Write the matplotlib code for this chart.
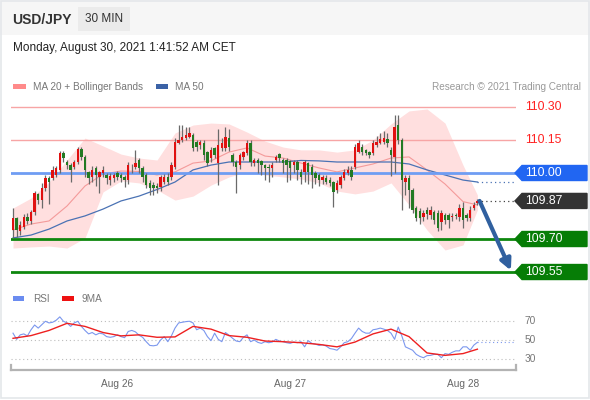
import numpy as np
import matplotlib
matplotlib.use("Agg")
import matplotlib.pyplot as plt
from matplotlib.patches import Rectangle, Polygon
import matplotlib.transforms as mtrans

plt.rcParams['font.family'] = ['Liberation Sans', 'DejaVu Sans']

# ---- candles (30 min, USD/JPY) ----
opens = [109.741, 109.795, 109.738, 109.756, 109.801, 109.78, 109.824, 109.903, 109.877, 109.93,
         109.976, 109.977, 109.991, 110.014, 110.091, 110.05, 110.036, 110.027, 110.05, 110.109,
         110.073, 110.005, 109.982, 110.023, 109.982, 110.0, 109.991, 109.968, 109.977, 110.0,
         109.991, 109.982, 109.968, 110.032, 110.027, 110.059, 110.023, 109.991, 109.955, 109.945,
         109.94, 109.936, 109.959, 109.982, 109.982, 110.027, 110.136, 110.15, 110.159, 110.164,
         110.173, 110.14, 110.127, 110.136, 110.095, 110.068, 110.114, 110.045, 110.114, 110.114,
         110.159, 110.08, 110.05, 110.036, 110.073, 110.091, 110.136, 110.045, 110.059, 110.055,
         110.036, 110.027, 110.023, 110.059, 110.086, 110.059, 110.059, 110.055, 110.036, 110.05,
         110.005, 110.005, 110.045, 110.027, 110.0, 109.991, 109.968, 109.977, 109.968, 109.959,
         109.923, 109.945, 109.977, 110.0, 110.014, 110.027, 110.095, 110.118, 110.105, 110.095,
         110.091, 110.127, 110.136, 110.14, 110.155, 110.105, 110.073, 110.218, 110.15, 109.959,
         109.977, 109.923, 109.841, 109.827, 109.80, 109.832, 109.809, 109.823, 109.818, 109.777,
         109.809, 109.809, 109.80, 109.806, 109.80, 109.841, 109.809, 109.795, 109.841, 109.864]
highs = [109.841, 109.80, 109.78, 109.815, 109.82, 109.83, 109.92, 109.91, 109.955, 109.99,
         109.985, 110.03, 110.03, 110.10, 110.10, 110.06, 110.045, 110.06, 110.12, 110.12,
         110.08, 110.01, 110.03, 110.03, 110.01, 110.03, 110.0, 110.0, 110.0, 110.01,
         110.0, 109.99, 110.05, 110.04, 110.105, 110.07, 110.03, 110.0, 109.97, 109.96,
         109.955, 109.99, 109.995, 110.0, 110.05, 110.16, 110.22, 110.22, 110.21, 110.21,
         110.18, 110.15, 110.15, 110.15, 110.10, 110.12, 110.12, 110.20, 110.16, 110.21,
         110.20, 110.09, 110.06, 110.09, 110.10, 110.15, 110.15, 110.07, 110.07, 110.06,
         110.04, 110.04, 110.05, 110.08, 110.09, 110.07, 110.07, 110.06, 110.06, 110.06,
         110.02, 110.06, 110.05, 110.04, 110.01, 110.0, 109.99, 109.99, 109.98, 109.965,
         109.97, 109.99, 110.02, 110.03, 110.03, 110.13, 110.15, 110.13, 110.11, 110.10,
         110.15, 110.17, 110.18, 110.19, 110.18, 110.12, 110.264, 110.264, 110.16, 109.99,
         109.99, 109.93, 109.85, 109.84, 109.83, 109.845, 109.85, 109.83, 109.83, 109.83,
         109.82, 109.82, 109.82, 109.82, 109.86, 109.87, 109.82, 109.85, 109.87, 109.88]
lows = [109.705, 109.71, 109.72, 109.745, 109.77, 109.77, 109.81, 109.86, 109.84, 109.92,
        109.86, 109.97, 109.98, 110.0, 110.05, 110.02, 109.96, 110.02, 110.04, 110.06,
        109.98, 109.95, 109.96, 109.94, 109.91, 109.98, 109.95, 109.945, 109.96, 109.97,
        109.96, 109.935, 109.95, 110.0, 110.02, 110.0, 109.96, 109.93, 109.90, 109.90,
        109.91, 109.92, 109.95, 109.945, 109.97, 110.02, 110.13, 110.14, 110.15, 110.16,
        110.10, 110.10, 110.11, 110.06, 110.03, 110.05, 110.07, 109.945, 110.10, 110.10,
        110.10, 110.03, 109.91, 110.02, 110.06, 110.08, 110.03, 110.03, 110.0, 109.99,
        109.97, 109.96, 109.98, 110.05, 110.05, 110.0, 109.96, 109.97, 110.0, 109.97,
        109.95, 109.96, 109.95, 109.93, 109.95, 109.94, 109.95, 109.95, 109.94, 109.845,
        109.91, 109.93, 109.97, 109.99, 109.97, 110.02, 110.09, 110.08, 110.08, 110.07,
        110.08, 110.12, 110.13, 110.13, 110.12, 109.985, 110.0, 110.13, 109.83, 109.90,
        109.84, 109.82, 109.78, 109.77, 109.78, 109.79, 109.79, 109.77, 109.735, 109.74,
        109.77, 109.75, 109.78, 109.79, 109.78, 109.75, 109.78, 109.78, 109.83, 109.855]
closes = [109.795, 109.741, 109.764, 109.801, 109.78, 109.824, 109.908, 109.877, 109.93, 109.976,
          109.96, 110.014, 110.023, 110.091, 110.068, 110.036, 110.014, 110.05, 110.109, 110.073,
          110.014, 109.977, 110.014, 109.991, 110.005, 110.014, 109.977, 109.986, 109.991, 109.982,
          109.977, 109.968, 110.036, 110.030, 110.045, 110.023, 109.982, 109.945, 109.932, 109.932,
          109.932, 109.982, 109.982, 109.959, 110.036, 110.14, 110.15, 110.164, 110.173, 110.182,
          110.114, 110.118, 110.14, 110.082, 110.045, 110.105, 110.082, 110.127, 110.136, 110.164,
          110.118, 110.05, 110.027, 110.082, 110.095, 110.136, 110.05, 110.059, 110.045, 110.036,
          110.023, 110.023, 110.036, 110.073, 110.068, 110.045, 110.036, 110.023, 110.05, 110.014,
          109.982, 110.05, 110.005, 109.991, 109.977, 109.968, 109.982, 109.959, 109.955, 109.914,
          109.955, 109.982, 110.005, 110.014, 109.982, 110.118, 110.136, 110.095, 110.091, 110.082,
          110.136, 110.14, 110.155, 110.159, 110.136, 110.082, 110.209, 110.15, 109.968, 109.977,
          109.923, 109.832, 109.795, 109.795, 109.818, 109.814, 109.832, 109.786, 109.75, 109.818,
          109.786, 109.786, 109.805, 109.804, 109.841, 109.786, 109.795, 109.832, 109.855, 109.873]

# ---- indicators, sampled every 5 bars ----
ind_idx = [0, 5, 10, 15, 20, 25, 30, 35, 40, 45, 50, 55, 60, 65, 70, 75, 80, 85, 90,
           95, 100, 105, 110, 115, 120, 125, 129]
ma50 = [109.705, 109.718, 109.745, 109.782, 109.805, 109.836, 109.873, 109.895, 109.925, 109.959,
        110.014, 110.036, 110.05, 110.05, 110.05, 110.05, 110.057, 110.055, 110.05, 110.05,
        110.05, 110.05, 110.041, 110.014, 109.991, 109.968, 109.959]
ma20 = [109.741, 109.768, 109.782, 109.85, 109.941, 109.995, 110.009, 110.007, 109.991, 110.005,
        110.045, 110.055, 110.095, 110.114, 110.077, 110.068, 110.045, 110.023, 110.005, 110.023,
        110.041, 110.068, 110.073, 110.014, 109.95, 109.87, 109.855]
bb_up = [109.841, 109.886, 109.959, 110.059, 110.159, 110.123, 110.086, 110.068, 110.059, 110.182,
         110.218, 110.227, 110.223, 110.186, 110.145, 110.118, 110.105, 110.105, 110.095, 110.105,
         110.15, 110.223, 110.282, 110.291, 110.227, 110.036, 109.90]
bb_low = [109.659, 109.664, 109.668, 109.659, 109.705, 109.914, 109.964, 109.955, 109.923, 109.877,
          109.895, 109.945, 109.982, 110.005, 109.991, 109.982, 109.973, 109.955, 109.918, 109.905,
          109.918, 109.955, 109.855, 109.741, 109.65, 109.673, 109.832]

rsi = [57.3, 50.7, 55.5, 56.5, 54.4, 60.9, 66.0, 62.7, 66.4, 70.0,
       68.2, 68.9, 71.1, 74.7, 70.0, 68.2, 64.5, 68.2, 70.0, 64.5,
       60.2, 56.5, 58.0, 55.5, 57.3, 56.5, 53.6, 52.9, 53.6, 55.5,
       53.6, 52.5, 59.1, 60.2, 58.7, 55.1, 52.9, 48.2, 44.2, 43.8,
       44.5, 50.0, 53.6, 48.2, 54.4, 62.7, 68.2, 68.9, 69.6, 70.0,
       68.2, 60.9, 62.7, 60.2, 53.6, 49.3, 57.3, 50.7, 48.2, 58.0,
       55.1, 51.8, 48.9, 48.2, 52.9, 55.5, 48.2, 50.0, 47.5, 46.4,
       48.2, 47.1, 47.8, 50.7, 48.9, 48.2, 47.1, 46.4, 47.8, 47.1,
       48.2, 42.7, 49.3, 46.4, 45.6, 44.2, 44.9, 43.5, 40.9, 40.2,
       39.1, 42.7, 47.1, 48.2, 51.5, 57.3, 62.7, 59.1, 57.3, 57.3,
       60.9, 61.6, 62.7, 61.6, 60.2, 57.3, 50.7, 63.8, 54.4, 42.7,
       40.9, 39.1, 34.7, 32.5, 31.1, 33.3, 33.6, 34.7, 34.7, 31.1,
       35.5, 34.7, 36.9, 38.4, 38.4, 42.7, 42.7, 39.1, 44.5, 47.5]
rsi_ma9 = [51.8, 54.7, 60.2, 67.8, 64.5, 58.0, 54.4, 55.5, 52.9, 53.3,
           64.5, 61.6, 54.7, 52.9, 48.9, 48.2, 47.1, 45.3, 42.7, 47.8,
           56.5, 61.6, 53.6, 36.2, 33.6, 35.5, 40.2]

levels = [110.30, 110.15, 110.00, 109.70, 109.55]
day_pos = [29, 77, 125]
day_labels = ['Aug 26', 'Aug 27', 'Aug 28']

idx = np.arange(len(closes))
o = np.array(opens); c = np.array(closes)

fig = plt.figure(figsize=(5.9, 4), dpi=100)

# background / header in pixel coords
bg = fig.add_axes([0, 0, 1, 1])
bg.set_xlim(0, 590); bg.set_ylim(400, 0); bg.axis('off')
bg.add_patch(Rectangle((0, 0), 590, 35, color='#f6f6f6', lw=0))
bg.add_patch(Rectangle((1, 1), 587.5, 396.5, fill=False, ec='#e4e7ea', lw=1.2))
bg.add_patch(Rectangle((78, 7), 52, 24, color='#ebebeb', lw=0))
bg.text(12, 20, 'USD/JPY', fontsize=10, fontweight='bold', color='#333333', va='center')
bg.text(104, 19.5, '30 MIN', fontsize=8.5, color='#333333', va='center', ha='center')
bg.text(13, 48, 'Monday, August 30, 2021 1:41:52 AM CET', fontsize=8.5, color='#222222', va='center')
bg.add_patch(Rectangle((13, 84), 13, 5, color='#ff8a8a', lw=0))
bg.text(33, 86.5, 'MA 20 + Bollinger Bands', fontsize=7.2, color='#777777', va='center')
bg.add_patch(Rectangle((156, 84), 12, 5, color='#3b62a6', lw=0))
bg.text(175, 86.5, 'MA 50', fontsize=7.2, color='#777777', va='center')
bg.text(581, 86.5, 'Research \u00a9 2021 Trading Central', fontsize=7.2, color='#999999',
        va='center', ha='right')
bg.add_patch(Rectangle((13, 296), 11, 5, color='#6b8cf0', lw=0))
bg.text(33, 298.5, 'RSI', fontsize=7.2, color='#777777', va='center')
bg.add_patch(Rectangle((62, 296), 12, 5, color='#ee1111', lw=0))
bg.text(82, 298.5, '9MA', fontsize=7.2, color='#777777', va='center')

# ---- price panel ----
ax = fig.add_axes([11/590, 1 - 285/400, 505/590, 190/400])
ax.set_xlim(-0.56, 139.72)
ax.set_ylim(109.491, 110.3545)
ax.axis('off')

ax.fill_between(ind_idx, bb_low, bb_up, color='#ffdfdf', lw=0, zorder=1)
ax.plot(ind_idx, ma20, color='#f49a9a', lw=0.8, zorder=2)
ax.plot(ind_idx, ma50, color='#4a72b4', lw=0.9, zorder=2)
ax.plot([ind_idx[-1], ax.get_xlim()[1]], [ma50[-1], ma50[-1]], color='#4a72b4', lw=0.9,
        ls=(0, (1, 2.5)), zorder=2)

lv_colors = ['#f7a5a5', '#f7a5a5', '#6f9df3', '#0e870e', '#0e870e']
lv_widths = [1.0, 1.0, 2.0, 2.0, 2.0]
for lv, col, lw in zip(levels, lv_colors, lv_widths):
    ax.axhline(lv, color=col, lw=lw, zorder=3)

up = c >= o
body_lo = np.minimum(o, c)
body_h = np.maximum(np.abs(c - o), 0.003)
ax.vlines(idx, lows, highs, color='#6a6a6a', lw=0.9, zorder=4)
ax.bar(idx[up], body_h[up], bottom=body_lo[up], width=0.7, color='#e01010', lw=0, zorder=5)
ax.bar(idx[~up], body_h[~up], bottom=body_lo[~up], width=0.7, color='#237a23', lw=0, zorder=5)

ax.plot([idx[-1], ax.get_xlim()[1]], [closes[-1], closes[-1]], color='#444444', lw=0.9,
        ls=(0, (1, 2.5)), zorder=3)

ax.annotate('', xy=(138.3, 109.557), xytext=(129.6, closes[-1]),
            arrowprops=dict(arrowstyle='-|>', color='#30609f', lw=3, mutation_scale=16,
                            shrinkA=0, shrinkB=0), zorder=6)

# right-side tags
tr = mtrans.blended_transform_factory(ax.transAxes, ax.transData)
px = 1 / 505
hh = 7.5 / 220
tag_prices = [110.00, closes[-1], 109.70, 109.55]
tag_text = ['110.00', '109.87', '109.70', '109.55']
tag_colors = ['#2166f2', '#333333', '#067d06', '#067d06']
for p, t, col in zip(tag_prices, tag_text, tag_colors):
    x0 = 1 - 1 * px
    poly = Polygon([(x0, p), (x0 + 7 * px, p + hh), (x0 + 72 * px, p + hh),
                    (x0 + 72 * px, p - hh), (x0 + 7 * px, p - hh)],
                   closed=True, color=col, transform=tr, clip_on=False, zorder=7)
    ax.add_patch(poly)
    ax.text(x0 + 10 * px, p, t, transform=tr, color='white', fontsize=8.8, va='center',
            ha='left', zorder=8)
for lv in levels[:2]:
    ax.text(1 + 9 * px, lv, '%.2f' % lv, transform=tr, color='#ff2222', fontsize=8.8,
            va='center', ha='left')

# ---- RSI panel ----
ax2 = fig.add_axes([11/590, 1 - 370/400, 505/590, 60/400])
ax2.set_xlim(-0.56, 139.72)
ax2.set_ylim(18, 82)
for s in ['top', 'left', 'right']:
    ax2.spines[s].set_visible(False)
ax2.spines['bottom'].set_color('#b3b3b3')
ax2.spines['bottom'].set_linewidth(1.6)
ax2.set_yticks([])
ax2.set_xticks(day_pos, day_labels)
ax2.tick_params(axis='x', length=0, pad=6.5, labelsize=7.3, labelcolor='#666666')
for g in [70, 50, 30]:
    ax2.axhline(g, color='#bdbdbd', lw=0.8, ls=(0, (1, 2.5)))
    ax2.text(1 + 9 * px, g, str(g), transform=mtrans.blended_transform_factory(ax2.transAxes, ax2.transData),
             fontsize=7.3, color='#777777', va='center', ha='left')
for xe in [0, 1]:
    ax2.plot([xe, xe], [0, 0.09], transform=ax2.transAxes, color='#b3b3b3', lw=1.6,
             clip_on=False)
ax2.plot(idx, rsi, color='#7b97ee', lw=0.8)
ax2.plot(ind_idx, rsi_ma9, color='#ee2020', lw=1.0)
ax2.plot([idx[-1], ax2.get_xlim()[1]], [rsi[-1], rsi[-1]], color='#7b97ee', lw=0.8,
         ls=(0, (1, 2.5)))

fig.savefig('out.png', dpi=100)
